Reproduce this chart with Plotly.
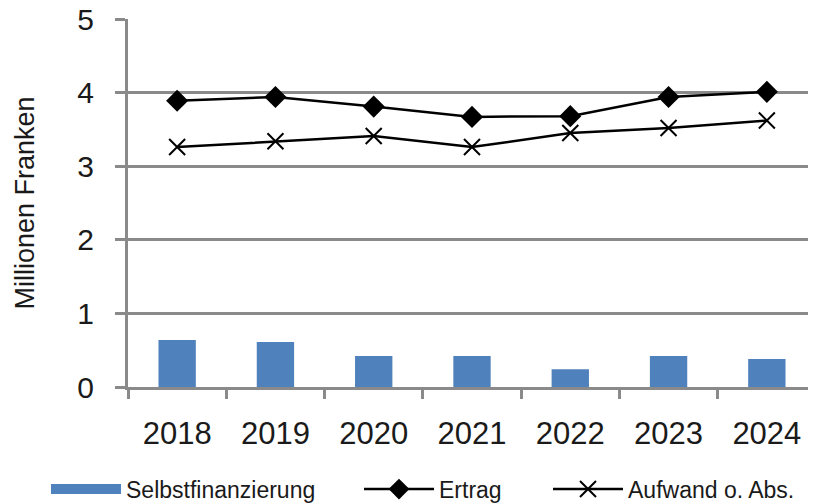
import plotly.graph_objects as go

years = ["2018", "2019", "2020", "2021", "2022", "2023", "2024"]
selbstfinanzierung = [0.64, 0.61, 0.42, 0.42, 0.24, 0.42, 0.38]
ertrag = [3.89, 3.94, 3.81, 3.67, 3.68, 3.94, 4.01]
aufwand = [3.26, 3.34, 3.41, 3.26, 3.45, 3.52, 3.62]
y_ticks = [0, 1, 2, 3, 4, 5]

FONT = "Liberation Sans, Arial, sans-serif"
GRID = "#8a8a8a"
TXT = "#1a1a1a"
BLUE = "#4F81BD"

# The page body has an 8px margin, so the figure is 8px smaller and offset.
W, H = 808, 496

fig = go.Figure()
fig.add_trace(go.Bar(
    x=years, y=selbstfinanzierung, name="Selbstfinanzierung",
    marker=dict(color=BLUE, line=dict(width=0)), width=0.38, showlegend=False,
))
# legend-only entry drawing the wide blue swatch
fig.add_trace(go.Scatter(
    x=[None], y=[None], name="Selbstfinanzierung", mode="lines",
    line=dict(color=BLUE, width=14), legend="legend", hoverinfo="skip",
))
fig.add_trace(go.Scatter(
    x=years, y=ertrag, name="Ertrag", mode="lines+markers",
    line=dict(color="black", width=2.5),
    marker=dict(symbol="diamond", size=17, color="black"), legend="legend2",
))
fig.add_trace(go.Scatter(
    x=years, y=aufwand, name="Aufwand o. Abs.", mode="lines+markers",
    line=dict(color="black", width=2.5),
    marker=dict(symbol="x-thin", size=16, color="black", line=dict(color="black", width=2)),
    legend="legend3",
))

def leg(xpx):
    return dict(
        orientation="h", x=xpx / W, xref="container", xanchor="left",
        y=0.03, yref="container", yanchor="middle",
        font=dict(size=23, family=FONT, color=TXT), itemwidth=70,
        bgcolor="rgba(0,0,0,0)",
    )

fig.update_layout(
    width=W, height=H,
    margin=dict(l=120, r=0, t=11, b=117),
    paper_bgcolor="white", plot_bgcolor="white",
    font=dict(family=FONT, color=TXT),
    showlegend=True,
    legend=leg(38), legend2=leg(351), legend3=leg(540),
)
fig.update_xaxes(
    type="category", range=[-0.5, 6.5], automargin=False,
    showline=True, linecolor=GRID, linewidth=3,
    ticks="outside", tickson="boundaries", ticklen=9, tickcolor=GRID, tickwidth=3,
    tickfont=dict(size=31, family=FONT, color=TXT),
    ticklabelstandoff=17,
    showgrid=False, zeroline=False,
)
fig.update_yaxes(
    range=[0, 5], tickvals=y_ticks, automargin=False, ticklabeloverflow="allow",
    showline=True, linecolor=GRID, linewidth=3,
    ticks="outside", ticklen=10, tickcolor=GRID, tickwidth=3,
    tickfont=dict(size=30, family=FONT, color=TXT),
    ticklabelstandoff=15,
    showgrid=True, gridcolor=GRID, gridwidth=2.5, zeroline=False,
    title=dict(text="Millionen Franken", font=dict(size=27, family=FONT, color=TXT), standoff=35),
)

fig.write_html("out.html")
